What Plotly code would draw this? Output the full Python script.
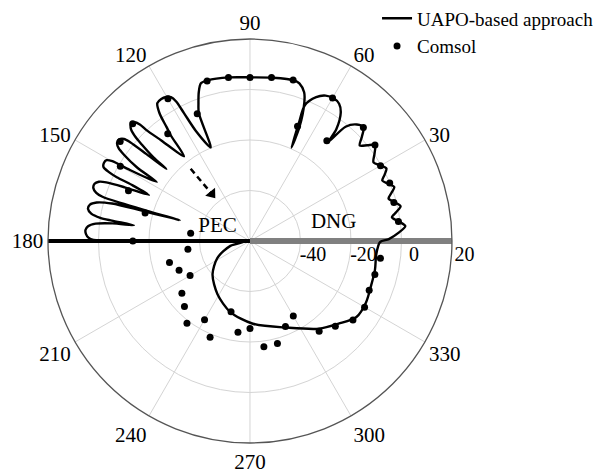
import plotly.graph_objects as go

# ---------------- data ----------------
uapo_theta = [0.8, 3.2, 5.5, 7.5, 9.5, 11.2, 13.0, 15.0, 17.0, 18.8, 20.5, 22.5, 24.5, 26.2, 28.0,
              30.2, 32.5, 35.0, 37.5, 39.2, 41.0, 43.0, 45.0,
              47.5, 50.1, 51.6, 52.3, 54.7, 57.0, 59.6, 62.5, 65.3, 68.0, 67.4, 66.1,
              66.5, 68.6, 70.0, 72.6, 74.6, 82.1, 89.7, 97.2, 104.8, 107.3, 109.0, 110.6, 111.8, 112.8,
              116.2, 117.3, 117.9, 118.8, 120.2, 122.0, 123.9, 125.3, 126.2, 126.9, 127.9,
              131.4, 133.0, 133.4, 134.2, 135.5, 136.6, 137.6, 138.3, 139.1, 139.3,
              140.0, 140.5, 141.0, 142.2, 143.6, 144.8, 145.6, 146.9, 147.7,
              149.5, 149.9, 150.6, 151.8, 153.2, 154.0, 154.4, 154.6, 155.5,
              156.8, 157.8, 158.6, 159.8, 161.3, 162.6, 163.3, 163.6, 163.7, 163.5,
              164.3, 164.8, 165.9, 167.2, 168.8, 170.2, 171.2, 171.6, 172.3,
              172.7, 173.6, 174.8, 176.2, 177.6, 178.8, 179.6, 180.0, 180.5, 181.5, 185.0,
              194.0, 207.3, 221.8, 238.6, 254.5, 272.0, 293.4, 308.2, 317.0, 324.5,
              332.0, 340.0, 347.0, 354.0, 359.5, 0.8]
uapo_r = [-5.0, -1.0, 1.8, -0.6, -3.0, -0.9, 1.2, -0.7, -2.6, -0.8, 1.0, -0.7, -2.4, -0.6, 1.2,
          -0.4, -2.0, 0.2, 2.4, 0.0, -2.4, 0.6, 3.6,
          2.6, -1.0, -9.7, -4.1, 2.2, 4.8, 5.5, 4.9, 2.7, -2.0, -10.0, -19.5,
          -11.0, -1.0, 2.7, 5.4, 6.0, 5.3, 4.8, 5.3, 5.8, 5.4, 2.3, -2.0, -5.4, -19.8,
          -11.3, -3.0, 2.5, 5.0, 6.0, 6.3, 5.8, 2.0, -4.0, -8.0, -17.5,
          -6.9, -0.1, 3.5, 5.6, 6.0, 5.0, 2.0, -2.6, -9.4, -16.3,
          -6.5, 1.5, 4.2, 5.6, 5.4, 3.6, 0.5, -6.5, -16.3,
          -3.5, 3.0, 5.2, 5.6, 5.0, 2.0, -1.5, -8.1, -16.0,
          -6.0, 1.5, 4.3, 5.6, 5.5, 3.8, 1.0, -8.0, -19.0, -31.0,
          -15.5, -3.4, 2.6, 5.0, 5.4, 3.8, 0.0, -4.7, -13.6,
          -5.0, 1.5, 4.4, 5.3, 5.0, 4.0, 2.0, -10.0, -30.0, -48.0, -58.0,
          -52.0, -45.5, -40.1, -35.3, -30.8, -27.2, -22.6, -15.8, -12.0, -8.2,
          -8.0, -8.9, -9.2, -9.7, -8.5, -5.0]

comsol_theta = [7.5, 15, 22.5, 30, 37.5, 45, 52.5, 60, 67.5, 75, 82.5, 90,
                97.5, 105, 112.5, 120, 127.5, 135, 142.5, 150, 157.5, 165, 172.5, 180,
                187.5, 195, 202.5, 210, 217.5, 225, 232.5, 240, 247.5, 255, 262.5, 270,
                277.5, 285, 292.5, 300, 307.5, 315, 322.5, 330, 337.5, 345, 352.5]
comsol_r = [-0.7, -1.0, -0.1, -0.3, 2.4, 3.5, -10, 5.4, -10.8, 6.0, 5.3, 4.8,
            5.3, 5.6, -5.4, 5.0, -6.5, 5.7, 4.8, -0.7, -7.9, -17, -36.3, -13.6,
            -35.2, -27, -29.6, -32.6, -26, -23.3, -19, -24, -18.7, -31, -23.5, -25.3,
            -17.8, -18, -23.3, -25.7, -15, -12.2, -8.6, -7.6, -8.9, -8.8, -7.9]

radial_range = [-60, 20]
radial_ticks = [-40, -20, 0, 20]
angle_ticks = [0, 30, 60, 90, 120, 150, 180, 210, 240, 270, 300, 330]
angle_labels = ["", "30", "60", "90", "120", "150", "180", "210", "240", "270", "300", "330"]

dng_theta = [0, 0]
pec_theta = [180, 180]
slab_r = [-60, 20]

arrow_theta = [129.4, 129.0]
arrow_r = [-23.0, -36.0]

label_text = ["PEC", "DNG"]
label_theta = [155.6, 12.0]
label_r = [-45.9, -26.1]

FONT = "Liberation Serif"
NB = "\u00a0"

fig = go.Figure()

fig.add_trace(go.Scatterpolar(theta=dng_theta, r=slab_r, mode="lines",
                              line=dict(color="#808080", width=6), showlegend=False, hoverinfo="skip"))
fig.add_trace(go.Scatterpolar(theta=pec_theta, r=slab_r, mode="lines",
                              line=dict(color="black", width=4), showlegend=False, hoverinfo="skip"))

fig.add_trace(go.Scatterpolar(theta=uapo_theta, r=uapo_r, mode="lines", name="UAPO-based approach",
                              line=dict(color="black", width=2.4, shape="spline", smoothing=0.8)))
fig.add_trace(go.Scatterpolar(theta=comsol_theta, r=comsol_r, mode="markers", name="Comsol",
                              marker=dict(color="black", size=7)))

fig.add_trace(go.Scatterpolar(theta=arrow_theta, r=arrow_r, mode="lines",
                              line=dict(color="black", width=2.5, dash="6px,4px"), showlegend=False))
fig.add_trace(go.Scatterpolar(theta=arrow_theta[1:], r=arrow_r[1:], mode="markers",
                              marker=dict(symbol="triangle-up", size=11, color="black", angle=141),
                              showlegend=False))

fig.add_trace(go.Scatterpolar(theta=label_theta, r=label_r, mode="text", text=label_text,
                              textfont=dict(family=FONT, size=21, color="black"), showlegend=False))

fig.update_layout(
    width=603, height=474,
    margin=dict(l=0, r=0, t=0, b=0, autoexpand=False),
    paper_bgcolor="white",
    font=dict(family=FONT, size=20, color="black"),
    polar=dict(
        domain=dict(x=[0.0663, 0.7363], y=[0.0823, 0.9346]),
        bgcolor="white",
        radialaxis=dict(range=radial_range, tickmode="array", tickvals=radial_ticks,
                        ticktext=[NB * 5 + str(v) for v in radial_ticks], tickangle=0,
                        angle=0, showline=False, ticks="", gridcolor="#d4d4d4", gridwidth=1,
                        tickfont=dict(family=FONT, size=20, color="black")),
        angularaxis=dict(tickmode="array", tickvals=angle_ticks, ticktext=angle_labels,
                         direction="counterclockwise", rotation=0, ticks="",
                         linecolor="#555555", linewidth=1.3, gridcolor="#d4d4d4", gridwidth=1,
                         tickfont=dict(family=FONT, size=21, color="black")),
    ),
    legend=dict(x=0.612, y=1.018, xanchor="left", yanchor="top", bgcolor="rgba(0,0,0,0)",
                font=dict(family=FONT, size=19, color="black"), itemwidth=30),
)

fig.write_html("out.html")
